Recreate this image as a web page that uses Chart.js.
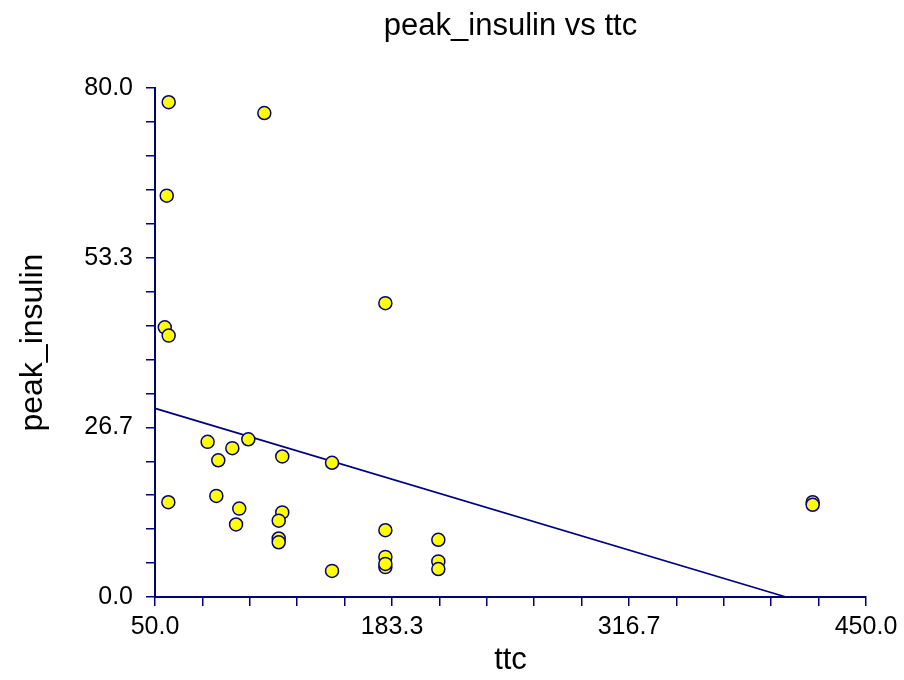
<!DOCTYPE html>
<html>
<head>
<meta charset="utf-8">
<script src="https://cdn.jsdelivr.net/npm/chart.js@4/dist/chart.umd.min.js"></script>
<style>
html,body{margin:0;padding:0;background:#fff;}
canvas{display:block;}
</style>
</head>
<body>
<canvas id="c" width="904" height="680"></canvas>
<script>
// Data
const ttc = [57.7, 111.5, 56.6, 55.5, 57.7, 179.6, 79.6, 102.5, 93.5, 85.6,
             121.6, 149.6, 57.5, 84.5, 97.4, 121.6, 119.6, 95.6, 119.6, 119.6,
             149.6, 179.6, 179.6, 179.6, 179.6, 209.4, 209.4, 209.4, 420.0, 420.0];
const peakInsulin = [77.8, 76.1, 63.1, 42.4, 41.1, 46.2, 24.4, 24.8, 23.4, 21.5,
                     22.1, 21.1, 14.9, 15.9, 13.9, 13.3, 12.0, 11.4, 9.2, 8.6,
                     4.1, 10.5, 6.3, 4.7, 5.2, 9.0, 5.6, 4.4, 14.9, 14.5];
const fitLineX = [50, 405];
const fitLineY = [29.65, 0];
const xTickLabels = ['50.0', '183.3', '316.7', '450.0'];
const yTickLabels = ['0.0', '26.7', '53.3', '80.0'];

const NAVY = '#000080';
const FONT = "'Liberation Sans', Arial, sans-serif";

const points = ttc.map((x, i) => ({x: x, y: peakInsulin[i]}));
const fitLine = fitLineX.map((x, i) => ({x: x, y: fitLineY[i]}));

new Chart(document.getElementById('c'), {
  type: 'scatter',
  data: {
    datasets: [
      {
        data: fitLine,
        showLine: true,
        borderColor: NAVY,
        borderWidth: 1.8,
        pointRadius: 0,
        fill: false,
        clip: false,
        order: 2
      },
      {
        data: points,
        pointRadius: 6.5,
        pointBackgroundColor: '#ffff00',
        pointBorderColor: NAVY,
        pointBorderWidth: 1.5,
        clip: false,
        order: 1
      }
    ]
  },
  options: {
    responsive: false,
    animation: false,
    events: [],
    layout: { padding: { left: 0, right: 38, top: 0, bottom: 0 } },
    plugins: {
      legend: { display: false },
      tooltip: { enabled: false },
      title: {
        display: true,
        fullSize: false,
        text: 'peak_insulin vs ttc',
        color: '#000',
        font: { family: FONT, size: 31, weight: 'normal' },
        padding: { top: 8, bottom: 43 }
      }
    },
    scales: {
      x: {
        type: 'linear',
        min: 50,
        max: 450,
        afterBuildTicks: (s) => {
          const t = [];
          for (let i = 0; i <= 15; i++) t.push({ value: 50 + i * 400 / 15 });
          s.ticks = t;
        },
        afterFit: (s) => { s.height = 83; },
        ticks: {
          autoSkip: false,
          maxRotation: 0,
          color: '#000',
          padding: 6,
          font: { family: FONT, size: 25 },
          callback: (v, i) => (i % 5 === 0 ? xTickLabels[i / 5] : '')
        },
        grid: { drawOnChartArea: false, drawTicks: true, tickLength: 9, color: NAVY, lineWidth: 1.5 },
        border: { display: true, color: NAVY, width: 2 },
        title: {
          display: true,
          text: 'ttc',
          color: '#000',
          font: { family: FONT, size: 31 },
          padding: { top: 0, bottom: 1 }
        }
      },
      y: {
        type: 'linear',
        min: 0,
        max: 80,
        afterBuildTicks: (s) => {
          const t = [];
          for (let i = 0; i <= 15; i++) t.push({ value: i * 80 / 15 });
          s.ticks = t;
        },
        afterFit: (s) => { s.width = 155; },
        ticks: {
          autoSkip: false,
          color: '#000',
          padding: 13,
          font: { family: FONT, size: 25 },
          callback: (v, i) => (i % 5 === 0 ? yTickLabels[i / 5] : '')
        },
        grid: { drawOnChartArea: false, drawTicks: true, tickLength: 9, color: NAVY, lineWidth: 1.5 },
        border: { display: true, color: NAVY, width: 2 },
        title: {
          display: true,
          text: 'peak_insulin',
          color: '#000',
          font: { family: FONT, size: 32 },
          padding: { top: 14, bottom: 0 }
        }
      }
    }
  }
});
</script>
</body>
</html>
